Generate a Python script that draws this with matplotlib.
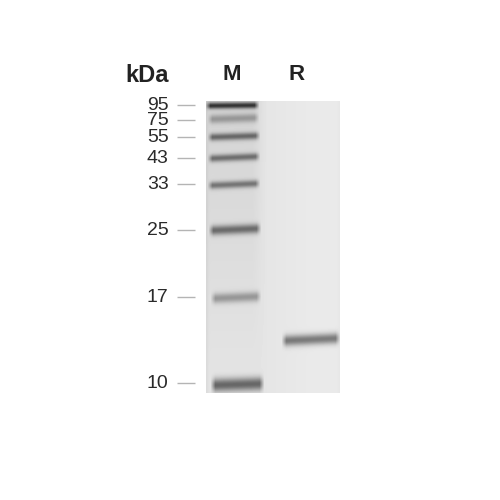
"""
SDS-PAGE gel, marker lane and one sample lane.
The gel is built as a grey image and drawn with imshow.
"""
from matplotlib import pyplot as plt
import numpy as np

plt.rcParams['font.family'] = ['Liberation Sans', 'DejaVu Sans']

lane_names = ["M", "R"]
marker_kda = ["95", "75", "55", "43", "33", "25", "17", "10"]
# distance run from the top of the gel, in gel rows
marker_run = [4, 17, 35, 56, 83, 128, 196, 283]
marker_strength = [160, 62, 110, 105, 100, 112, 72, 125]
sample_run = [238]
sample_strength = [110]
tick_rows = [4, 19, 36, 57, 83, 129, 196, 282]

GEL_LEFT, GEL_RIGHT, GEL_TOP, GEL_BOTTOM = 206, 340, 101, 393

# left edge, right edge, half thickness, rise from left to right
marker_shape = [
    (207, 257, 3.2, 0.5), (209, 257, 4.4, 1.5), (209, 258, 3.7, 1.5), (209, 258, 3.7, 2.0),
    (209, 258, 3.7, 2.0), (210, 259, 4.8, 2.0), (212, 259, 5.0, 2.0), (212, 262, 6.6, 1.5),
]
sample_shape = [(283, 338, 5.4, 2.5)]


def band_layer(xx, yy, run, strength, shape):
    left, right, half, rise = shape
    centre = run - rise * (xx - left) / (right - left) + rise / 2
    across = np.exp(-((yy - centre) / half) ** 2)
    along = np.clip((xx - left + 2) / 5, 0, 1) * np.clip((right + 2 - xx) / 5, 0, 1)
    return strength * across * along


def build_gel():
    xs = np.arange(GEL_LEFT, GEL_RIGHT)
    ys = np.arange(GEL_BOTTOM - GEL_TOP)
    xx, yy = np.meshgrid(xs, ys)
    gel = 228 + 6 * np.clip((xx - 255) / 60, 0, 1)
    gel -= 16 * np.clip((266 - xx) / 14, 0, 1) * np.clip(1 - yy / 280, 0, 1)
    gel -= 8 * np.exp(-((xx - GEL_LEFT) / 2.0) ** 2)
    gel -= 4 * np.exp(-((xx - GEL_RIGHT) / 3.0) ** 2)
    for run, strength, shape in zip(marker_run, marker_strength, marker_shape):
        gel -= band_layer(xx, yy, run, strength, shape)
    for run, strength, shape in zip(sample_run, sample_strength, sample_shape):
        gel -= band_layer(xx, yy, run, strength, shape)
    return np.clip(gel, 45, 255)


def main():
    fig = plt.figure(figsize=(5, 5), dpi=100)
    ax = fig.add_axes([0, 0, 1, 1])
    ax.imshow(build_gel(), cmap="gray", vmin=0, vmax=255, interpolation="bilinear",
              extent=(GEL_LEFT, GEL_RIGHT, GEL_BOTTOM, GEL_TOP), aspect="auto")
    for row in tick_rows:
        y = GEL_TOP + row
        ax.plot([177, 195], [y, y], color="#b4b4b4", lw=1.0, solid_capstyle="butt")
    for row, label in zip(tick_rows, marker_kda):
        ax.text(168.5, GEL_TOP + row + 0.5, label, ha="right", va="center", fontsize=14, color="#2a2a2a")
    ax.text(147, 75, "kDa", ha="center", va="center", fontsize=17, fontweight="bold", color="#222222")
    ax.text(232, 75, lane_names[0], ha="center", va="center", fontsize=16, fontweight="bold", color="#222222")
    ax.text(297, 75, lane_names[1], ha="center", va="center", fontsize=16, fontweight="bold", color="#222222")
    ax.set_xlim(0, 500)
    ax.set_ylim(500, 0)
    ax.axis("off")
    fig.savefig("out.png", dpi=100, facecolor="white")


if __name__ == "__main__":
    main()
